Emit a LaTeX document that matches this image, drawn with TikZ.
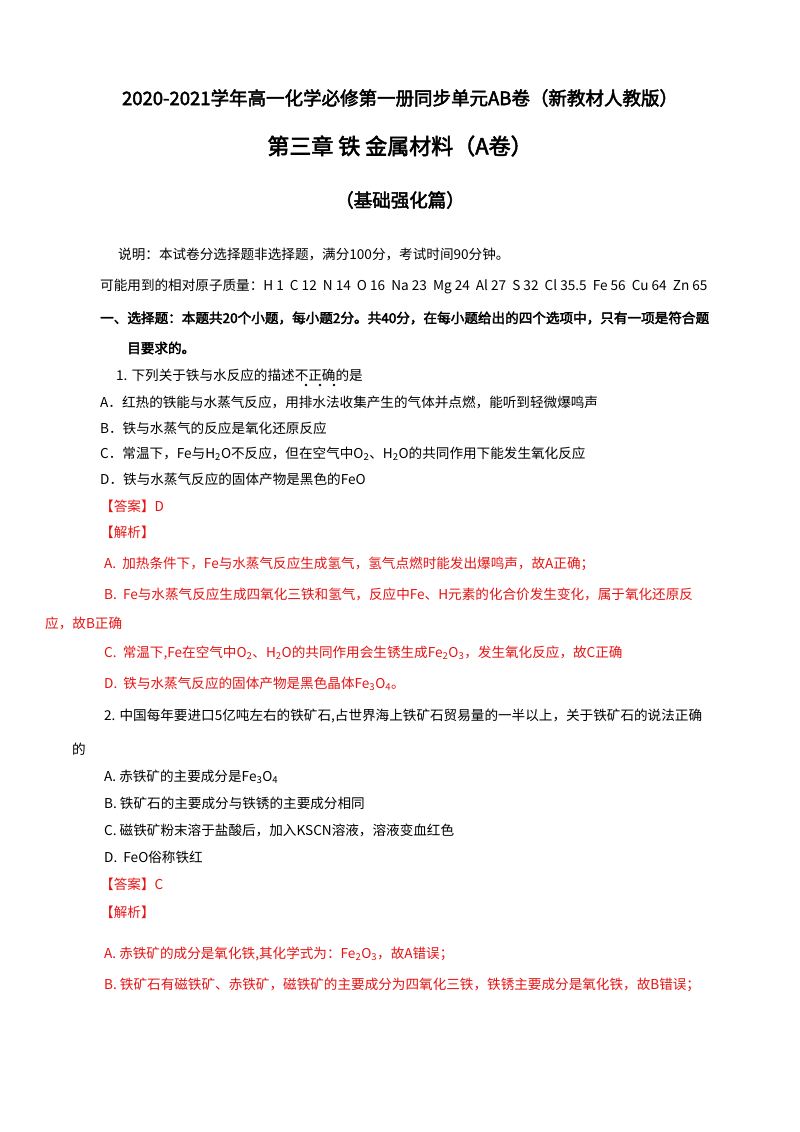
\documentclass[tikz,border=0pt]{standalone}
\usepackage{fontspec}
\setmainfont{Noto Sans CJK SC}[AutoFakeBold=2.5]
\newcommand{\ts}[1]{\textsubscript{#1}}
\begin{document}
\begin{tikzpicture}[x=1pt,y=-1pt,
  ln/.style={anchor=west,inner sep=0pt,font=\fontsize{13.6}{14}\selectfont},
  rd/.style={ln,text={rgb,255:red,230;green,20;blue,20}},
  hd/.style={inner sep=0pt,font=\bfseries\fontsize{18.5}{20}\selectfont}]
\useasboundingbox[fill=white] (0,0) rectangle (800,1132);
\node[hd] (t1) at (400,98) {2020-2021学年高一化学必修第一册同步单元AB卷（新教材人教版）};
\node[hd,font=\bfseries\fontsize{22}{24}\selectfont] (t2) at (400,146) {第三章\ 铁\ 金属材料（A卷）};
\node[hd] (t3) at (400,200) {（基础强化篇）};
\node[ln] (l1) at (118,254) {说明：本试卷分选择题非选择题，满分100分，考试时间90分钟。};
\node[ln] (l2) at (100,286) {可能用到的相对原子质量：H 1\ \ C 12\ \ N 14\ \ O 16\ \ Na 23\ \ Mg 24\ \ Al 27\ \ S 32\ \ Cl 35.5\ \ Fe 56\ \ Cu 64\ \ Zn 65};
\node[ln,font=\bfseries\fontsize{13.6}{14}\selectfont] (l3) at (100,318) {一、选择题：本题共20个小题，每小题2分。共40分，在每小题给出的四个选项中，只有一项是符合题};
\node[ln,font=\bfseries\fontsize{13.6}{14}\selectfont] (l4) at (127,348) {目要求的。};
\node[ln] (q1) at (116,375) {1. 下列关于铁与水反应的描述不正确的是};
\foreach \x in {306,320,334} \fill (\x,385) circle (1.3);
\node[ln] (q1a) at (100,402) {A．红热的铁能与水蒸气反应，用排水法收集产生的气体并点燃，能听到轻微爆鸣声};
\node[ln] (q1b) at (100,428) {B．铁与水蒸气的反应是氧化还原反应};
\node[ln] (q1c) at (100,454) {C．常温下，Fe与H\ts{2}O不反应，但在空气中O\ts{2}、H\ts{2}O的共同作用下能发生氧化反应};
\node[ln] (q1d) at (100,479) {D．铁与水蒸气反应的固体产物是黑色的FeO};
\node[rd] (a1) at (100,506) {【答案】D};
\node[rd] (j1) at (100,532) {【解析】};
\node[rd] (j1a) at (104,564) {A.\ \ 加热条件下，Fe与水蒸气反应生成氢气，氢气点燃时能发出爆鸣声，故A正确；};
\node[rd] (j1b) at (104,594) {B.\ \ Fe与水蒸气反应生成四氧化三铁和氢气，反应中Fe、H元素的化合价发生变化，属于氧化还原反};
\node[rd] (j1b2) at (45,623) {应，故B正确};
\node[rd] (j1c) at (104,653) {C.\ \ 常温下,Fe在空气中O\ts{2}、H\ts{2}O的共同作用会生锈生成Fe\ts{2}O\ts{3}，发生氧化反应，故C正确};
\node[rd] (j1d) at (104,684) {D.\ \ 铁与水蒸气反应的固体产物是黑色晶体Fe\ts{3}O\ts{4}。};
\node[ln] (q2) at (104,716) {2. 中国每年要进口5亿吨左右的铁矿石,占世界海上铁矿石贸易量的一半以上，关于铁矿石的说法正确};
\node[ln] (q2b) at (72,749) {的};
\node[ln] (q2A) at (104,777) {A. 赤铁矿的主要成分是Fe\ts{3}O\ts{4}};
\node[ln] (q2B) at (104,803) {B. 铁矿石的主要成分与铁锈的主要成分相同};
\node[ln] (q2C) at (104,830) {C. 磁铁矿粉末溶于盐酸后，加入KSCN溶液，溶液变血红色};
\node[ln] (q2D) at (104,857) {D.\ \ FeO俗称铁红};
\node[rd] (a2) at (100,884) {【答案】C};
\node[rd] (j2) at (100,912) {【解析】};
\node[rd] (j2a) at (104,954) {A. 赤铁矿的成分是氧化铁,其化学式为：Fe\ts{2}O\ts{3}，故A错误；};
\node[rd] (j2b) at (104,985) {B. 铁矿石有磁铁矿、赤铁矿，磁铁矿的主要成分为四氧化三铁，铁锈主要成分是氧化铁，故B错误；};
\end{tikzpicture}
\end{document}
